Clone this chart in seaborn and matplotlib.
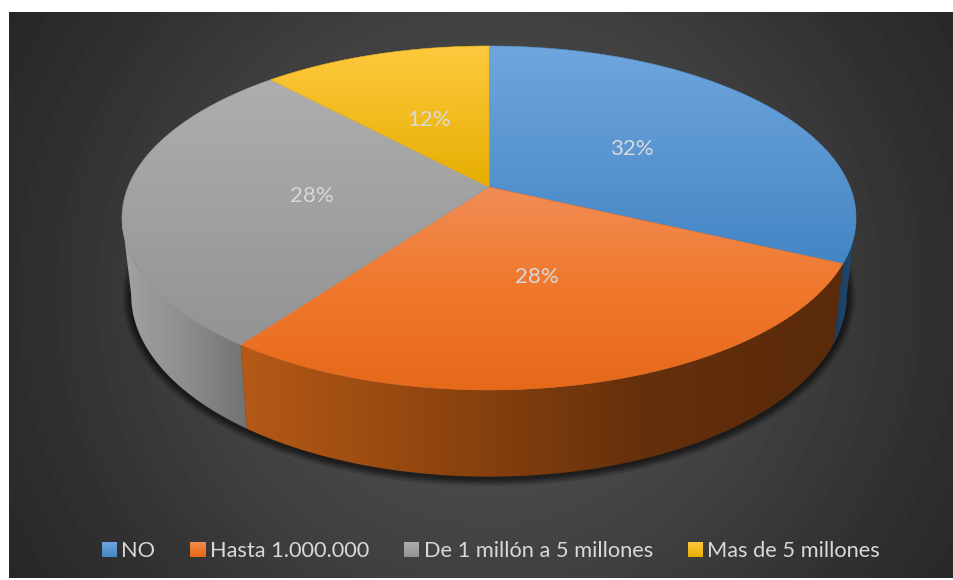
import numpy as np
import matplotlib
matplotlib.use("Agg")
import matplotlib.pyplot as plt
from matplotlib.colors import LinearSegmentedColormap
from matplotlib.patches import Patch, Polygon
import seaborn as sns

categories = ["NO", "Hasta 1.000.000", "De 1 millón a 5 millones", "Mas de 5 millones"]
shares = [32, 28, 28, 12]

legend_colors = ["#5b9bd5", "#ed7d31", "#a5a5a5", "#ffc000"]
top_ramps = [("#6fa6de", "#4485c4"), ("#f28d56", "#f0782c", "#e6691a"),
             ("#aeaeae", "#939393"), ("#ffc93f", "#e6ae00")]
wall_ramps = [("#1d3f60", "#224a70"), ("#b55a16", "#8f440f", "#65300c", "#5a2a0b"),
              ("#a2a2a2", "#8e8e8e", "#727272"), None]
TEXT = "#d9d9d9"

# perspective of the two discs, in pixels of the figure
CX = 489
TILT = 0.18
TOP = dict(y0=187, w=361, h=166.4)
BOTTOM = dict(y0=262, w=352, h=176)
# the part of the rim that faces the viewer, between the two widest points
FRONT = (-180 + np.degrees(np.arcsin(TILT)), -np.degrees(np.arcsin(TILT)))


def project(disc, theta, r=1.0):
    u = r * np.cos(np.radians(theta))
    v = r * np.sin(np.radians(theta))
    den = 1 + TILT * v
    return CX + disc["w"] * u / den, disc["y0"] - disc["h"] * v / den


def ramp(ax, xy, stops, zorder, vertical=True, edge=0.0):
    xy = np.asarray(xy)
    cmap = LinearSegmentedColormap.from_list("r", stops)
    grad = np.linspace(0, 1, 256)
    grad = grad[:, None] if vertical else grad[None, :]
    box = (xy[:, 0].min(), xy[:, 0].max(), xy[:, 1].max(), xy[:, 1].min())
    im = ax.imshow(grad, cmap=cmap, extent=box, origin="upper", aspect="auto",
                   zorder=zorder, interpolation="bilinear")
    im.set_clip_path(Polygon(xy, transform=ax.transData))
    if edge:
        ax.add_patch(Polygon(xy, closed=True, fill=False, lw=edge, zorder=zorder,
                             edgecolor=cmap(0.6)))


def main():
    sns.set_style("white")
    plt.rcParams["font.family"] = ["Lato", "DejaVu Sans"]

    fig = plt.figure(figsize=(9.54, 5.8), dpi=100)
    ax = fig.add_axes([0, 0, 1, 1])

    wedges, _ = ax.pie(shares, startangle=90, counterclock=False,
                       colors=sns.color_palette(legend_colors))
    ax.set_aspect("auto")

    # background
    yy, xx = np.mgrid[12:578, 9:954]
    dist = np.hypot(xx - 489, yy - 295)
    shade = np.interp(dist, [0, 280, 470, 560], [0x56, 0x41, 0x2e, 0x27]) / 255
    ax.imshow(shade, cmap="gray", vmin=0, vmax=1, extent=(9, 954, 578, 12),
              aspect="auto", zorder=0)

    # soft shadow under the lower rim
    tx, ty = project(BOTTOM, np.linspace(0, 360, 361))
    for lw in [12, 9, 7, 5, 3]:
        ax.plot(tx, ty + 1, color="black", alpha=0.15, lw=lw, zorder=1,
                solid_capstyle="round")

    # walls, side ones first so the orange front sits over them
    for z, i in enumerate([0, 2, 1]):
        w = wedges[i]
        th = np.linspace(max(w.theta1, FRONT[0]), min(w.theta2, FRONT[1]), 120)
        ux, uy = project(TOP, th)
        lx, ly = project(BOTTOM, th)
        xy = np.r_[np.c_[ux, uy], np.c_[lx, ly][::-1]]
        ramp(ax, xy, wall_ramps[i], 2 + z * 0.1, vertical=False)

    for i, w in enumerate(wedges):
        th = np.linspace(w.theta1, w.theta2, 160)
        ux, uy = project(TOP, th)
        xy = np.r_[[[CX, TOP["y0"]]], np.c_[ux, uy]]
        ramp(ax, xy, top_ramps[i], 3 + i * 0.1, edge=0.4)

        mid = (w.theta1 + w.theta2) / 2
        lx, ly = project(TOP, mid, 0.49)
        ax.text(lx, ly + 3.5, f"{shares[i]}%", color=TEXT, fontsize=16,
                ha="center", va="center", zorder=6)
        w.set_visible(False)

    handles = [Patch(facecolor=c, edgecolor="none", label=n)
               for c, n in zip(legend_colors, categories)]
    leg = ax.legend(handles=handles, ncol=4, loc="center",
                    bbox_to_anchor=(491 / 954, 1 - 551 / 580), frameon=False,
                    fontsize=15.7, labelcolor=TEXT, handlelength=0.7,
                    handleheight=0.65, handletextpad=0.2, columnspacing=1.6)
    leg.set_zorder(6)

    ax.set_xlim(0, 954)
    ax.set_ylim(580, 0)
    ax.set_axis_off()
    fig.patch.set_facecolor("white")

    # same gradient on the legend keys
    fig.canvas.draw()
    for handle, stops in zip(leg.legend_handles, top_ramps):
        b = handle.get_window_extent()
        corners = [(b.x0, 580 - b.y0), (b.x1, 580 - b.y0), (b.x1, 580 - b.y1), (b.x0, 580 - b.y1)]
        ramp(ax, corners, stops, 7)
    ax.set_xlim(0, 954)
    ax.set_ylim(580, 0)

    fig.savefig("out.png", dpi=100)
    plt.close(fig)


if __name__ == "__main__":
    main()
